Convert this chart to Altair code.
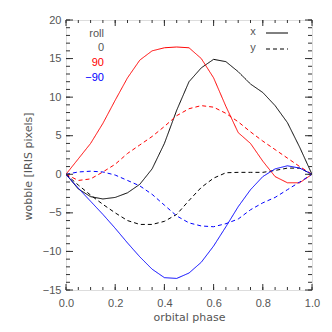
import altair as alt
import pandas as pd

phase = [0.00, 0.05, 0.10, 0.15, 0.20, 0.25, 0.30, 0.35, 0.40, 0.45, 0.50,
         0.55, 0.60, 0.65, 0.70, 0.75, 0.80, 0.85, 0.90, 0.95, 1.00]

x_roll0 = [0, -1.9, -2.9, -3.2, -3.0, -2.4, -1.3, 0.7, 4.0, 8.3, 12.0,
           13.8, 14.9, 14.6, 13.3, 11.7, 10.6, 8.9, 6.7, 3.5, 0]
y_roll0 = [0, -1.4, -2.7, -3.9, -5.0, -6.0, -6.5, -6.5, -6.1, -5.2, -3.4,
           -1.7, -0.5, 0.2, 0.25, 0.25, 0.25, 0.5, 0.8, 0.8, 0]
x_roll90 = [0, 2.0, 4.0, 6.6, 9.6, 12.5, 14.8, 16.0, 16.4, 16.5, 16.4,
            15.0, 12.5, 8.8, 5.4, 4.0, 1.7, -0.3, -1.1, -1.1, 0]
y_roll90 = [0, -0.8, -0.6, 0.3, 1.3, 2.7, 3.8, 4.9, 6.2, 7.6, 8.5,
            8.9, 8.7, 7.9, 6.8, 5.5, 4.3, 3.2, 2.1, 1.0, 0]
x_rollm90 = [0, -1.8, -3.5, -5.2, -7.0, -8.9, -10.7, -12.3, -13.4, -13.5, -12.8,
             -11.4, -9.3, -6.8, -4.2, -2.0, -0.3, 0.7, 1.1, 0.8, 0]
y_rollm90 = [0, 0.3, 0.4, 0.3, -0.1, -0.8, -1.5, -2.6, -4.0, -5.4, -6.3,
             -6.7, -6.8, -6.4, -5.8, -4.6, -3.7, -3.0, -2.0, -1.0, 0]

rolls = ["0", "90", "-90"]
roll_labels = ["0", "90", "\u221290"]
roll_colors = ["black", "red", "blue"]
comps = ["x", "y"]

x_major = [0.0, 0.2, 0.4, 0.6, 0.8, 1.0]
x_minor = [i * 0.05 for i in range(21)]
y_major = [-15, -10, -5, 0, 5, 10, 15, 20]
y_minor = list(range(-15, 21))

series = {
    ("0", "x"): x_roll0, ("0", "y"): y_roll0,
    ("90", "x"): x_roll90, ("90", "y"): y_roll90,
    ("-90", "x"): x_rollm90, ("-90", "y"): y_rollm90,
}
rows = []
for (r, c), vals in series.items():
    for p, v in zip(phase, vals):
        rows.append({"phase": p, "value": v, "roll": r, "comp": c, "key": r + c})
df = pd.DataFrame(rows)

W, H = 246, 270
TXT = "#555555"
FONT = "Liberation Sans"
TFONT = "DejaVu Sans"

xscale = alt.Scale(domain=[0, 1], nice=False, zero=False)
yscale = alt.Scale(domain=[-15, 20], nice=False, zero=False)

x_axis = alt.Axis(values=x_major, format=".1f", tickSize=0, domain=False,
                  grid=False, labelPadding=7, labelFontSize=11,
                  labelColor=TXT, labelFont=FONT, labelOverlap=False,
                  labelFlush=False, labelBound=False,
                  title="orbital phase", titleFontSize=11,
                  titleFontWeight="normal", titleColor=TXT,
                  titleFont=TFONT, titlePadding=3)
y_axis = alt.Axis(values=y_major, format="d", tickSize=0, domain=False,
                  grid=False, labelPadding=5, labelFontSize=11,
                  labelColor=TXT, labelFont=FONT, labelOverlap=False,
                  labelFlush=False, labelBound=False,
                  title="wobble [IRIS pixels]", titleFontSize=11,
                  titleFontWeight="normal", titleColor=TXT,
                  titleFont=TFONT, titlePadding=9, titleY=146)

lines = alt.Chart(df).mark_line(strokeWidth=1, clip=True).encode(
    x=alt.X("phase:Q", scale=xscale, axis=x_axis),
    y=alt.Y("value:Q", scale=yscale, axis=y_axis),
    color=alt.Color("roll:N", scale=alt.Scale(domain=rolls, range=roll_colors), legend=None),
    strokeDash=alt.StrokeDash("comp:N", scale=alt.Scale(domain=comps, range=[[1, 0], [4, 3]]), legend=None),
    detail="key:N",
)

def xticks(vals, length, top):
    d = pd.DataFrame({"t": vals})
    if top:
        y1, y2 = 0, length
    else:
        y1, y2 = H, H - length
    return alt.Chart(d).mark_rule(color="#333333", strokeWidth=1).encode(
        x=alt.X("t:Q", scale=xscale, axis=x_axis), y=alt.value(y1), y2=alt.value(y2))

def yticks(vals, length, right):
    d = pd.DataFrame({"t": vals})
    if right:
        x1, x2 = W, W - length
    else:
        x1, x2 = 0, length
    return alt.Chart(d).mark_rule(color="#333333", strokeWidth=1).encode(
        y=alt.Y("t:Q", scale=yscale, axis=y_axis), x=alt.value(x1), x2=alt.value(x2))

ticks = [
    xticks(x_major, 6, False), xticks(x_minor, 3, False),
    xticks(x_major, 6, True), xticks(x_minor, 3, True),
    yticks(y_major, 7, False), yticks(y_minor, 4, False),
    yticks(y_major, 7, True), yticks(y_minor, 4, True),
]

# legend texts
legend_layers = []
leg_items = [("roll", TXT)] + list(zip(roll_labels, roll_colors))
for i, (lab, col) in enumerate(leg_items):
    c = TXT if col == "black" else col
    legend_layers.append(
        alt.Chart(pd.DataFrame({"t": [lab]})).mark_text(
            align="right", baseline="middle", fontSize=11, font=FONT, color=c
        ).encode(text="t:N", x=alt.value(38), y=alt.value(13.5 + 14.7 * i))
    )
for i, c in enumerate(comps):
    legend_layers.append(
        alt.Chart(pd.DataFrame({"t": [c]})).mark_text(
            align="center", baseline="middle", fontSize=11, font=FONT, color=TXT
        ).encode(text="t:N", x=alt.value(187), y=alt.value(12 + 16 * i))
    )
    legend_layers.append(
        alt.Chart(pd.DataFrame({"t": [c]})).mark_rule(
            color="black", strokeWidth=1, strokeDash=[1, 0] if c == "x" else [4, 3]
        ).encode(x=alt.value(200), x2=alt.value(222), y=alt.value(13 + 16 * i))
    )

chart = alt.layer(lines, *ticks, *legend_layers).properties(
    width=W, height=H,
    autosize=alt.AutoSizeParams(type="none"),
    padding={"left": 58, "top": 12, "right": 10, "bottom": 34},
).configure_view(stroke="#333333", strokeWidth=1).configure_axis(
    labelOverlap=False
).configure(background="white")

chart.save("out.html", embed_options={"renderer": "svg", "actions": False})
